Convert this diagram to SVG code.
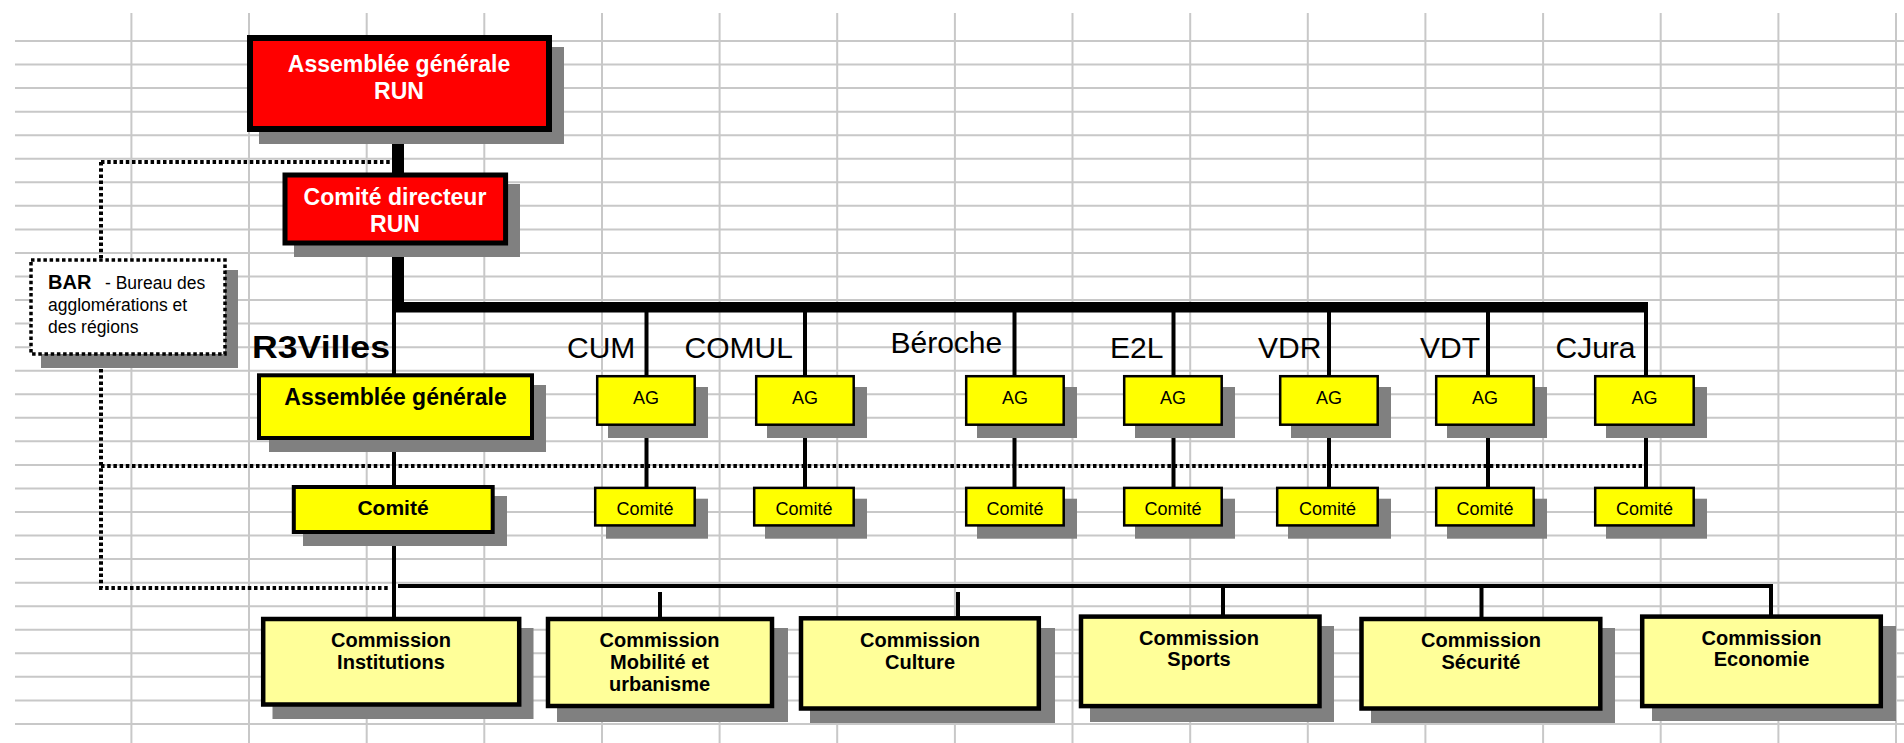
<svg xmlns="http://www.w3.org/2000/svg" width="1904" height="743" viewBox="0 0 1904 743">
<style>
.grid{stroke:#c8c8c8;stroke-width:2;fill:none}
.sh{fill:#808080}
.red{fill:#ff0000;stroke:#000}
.yel{fill:#ffff00;stroke:#000}
.lyel{fill:#ffff99;stroke:#000;stroke-width:4.5}
.sm{fill:#ffff00;stroke:#000;stroke-width:2.5}
.thick{stroke:#000;stroke-width:12;fill:none}
.thin{stroke:#000;stroke-width:4;fill:none}
.dot{stroke:#000;stroke-width:4;fill:none;stroke-dasharray:3.5 2.7}
text{font-family:"Liberation Sans",Arial,sans-serif}
.wt{fill:#fff;font-weight:bold;font-size:23px;text-anchor:middle}
.bt{fill:#000;font-weight:bold;text-anchor:middle}
.st{fill:#000;font-size:18px;text-anchor:middle}
.lab{fill:#000;font-size:30px}
.com{fill:#000;font-weight:bold;font-size:20px;text-anchor:middle}
</style>
<rect x="0" y="0" width="1904" height="743" fill="#fff"/>
<g id="grid">
<path class="grid" d="M15 41H1904M15 64.55H1904M15 88.1H1904M15 111.65H1904M15 135.2H1904M15 158.75H1904M15 182.3H1904M15 205.85H1904M15 229.4H1904M15 252.95H1904M15 276.5H1904M15 300.05H1904M15 323.6H1904M15 347.15H1904M15 370.7H1904M15 394.25H1904M15 417.8H1904M15 441.35H1904M15 464.9H1904M15 488.45H1904M15 512H1904M15 535.55H1904M15 559.1H1904M15 582.65H1904M15 606.2H1904M15 629.75H1904M15 653.3H1904M15 676.85H1904M15 700.4H1904M15 723.95H1904"/>
<path class="grid" d="M131.4 13V743M249 13V743M366.7 13V743M484.3 13V743M602 13V743M719.6 13V743M837.2 13V743M954.9 13V743M1072.5 13V743M1190.2 13V743M1307.8 13V743M1425.4 13V743M1543.1 13V743M1660.7 13V743M1778.4 13V743M1896 13V743"/>
</g>
<g id="connectors">
<path class="thick" d="M398 131V174M398 245V307"/>
<rect x="392" y="302" width="1256" height="10.5" fill="#000"/>
<path class="thin" d="M394 312V374M646.5 312V376M805 312V376M1014.5 312V376M1173.5 312V376M1329 312V376M1488 312V376M1646 312V376"/>
<path class="thin" d="M646.5 426V487M805 426V487M1014.5 426V487M1173.5 426V487M1329 426V487M1488 426V487M1646 426V487"/>
<path class="thin" d="M394 440V486M394 534V617"/>
<path class="thin" d="M398 586H1773M660 592V617M958 592V617M1223 586V615M1481.5 586V617M1771 584V615"/>
<path class="dot" d="M101 162H390M101 162V258M101 369V588H390M101 466H1642"/>
</g>
<g id="ag-run">
<rect class="sh" x="259" y="47" width="305" height="97"/>
<rect class="red" x="250" y="38" width="299" height="91" stroke-width="6"/>
<text class="wt" x="399" y="72">Assemblée générale</text>
<text class="wt" x="399" y="99">RUN</text>
</g>
<g id="cd-run">
<rect class="sh" x="294" y="184" width="226" height="73"/>
<rect class="red" x="285" y="175" width="220.6" height="68" stroke-width="5"/>
<text class="wt" x="395" y="205">Comité directeur</text>
<text class="wt" x="395" y="232">RUN</text>
</g>
<g id="bar">
<rect class="sh" x="41" y="270" width="197" height="98"/>
<rect x="31" y="260" width="194" height="94" fill="#fff" stroke="#000" stroke-width="3.5" stroke-dasharray="3.5 2.7"/>
<text x="48" y="289" font-size="20" font-weight="bold">BAR</text>
<text x="105" y="289" font-size="17.5">- Bureau des</text>
<text x="48" y="311" font-size="17.5">agglomérations et</text>
<text x="48" y="333" font-size="17.5">des régions</text>
</g>
<g id="labels">
<text x="252" y="358" font-size="32" font-weight="bold" textLength="138" lengthAdjust="spacingAndGlyphs">R3Villes</text>
<text class="lab" x="567" y="358">CUM</text>
<text class="lab" x="684.5" y="358">COMUL</text>
<text class="lab" x="890.5" y="353">Béroche</text>
<text class="lab" x="1110" y="358">E2L</text>
<text class="lab" x="1258" y="358">VDR</text>
<text class="lab" x="1420" y="358">VDT</text>
<text class="lab" x="1555.5" y="358">CJura</text>
</g>
<g id="r3-ag">
<rect class="sh" x="269" y="385" width="277" height="67"/>
<rect class="yel" x="259" y="375.3" width="273" height="62.7" stroke-width="4"/>
<text class="bt" x="395.5" y="405" font-size="23">Assemblée générale</text>
</g>
<g id="r3-comite">
<rect class="sh" x="303" y="496" width="204" height="50"/>
<rect class="yel" x="293.8" y="487" width="198.9" height="45" stroke-width="4"/>
<text class="bt" x="393" y="515" font-size="21">Comité</text>
</g>
<g id="cum-ag"><rect class="sh" x="608" y="387" width="100" height="51"/><rect class="sm" x="597.2" y="376.2" width="97.5" height="48.5"/><text class="st" x="646" y="403.5">AG</text></g>
<g id="comul-ag"><rect class="sh" x="767" y="387" width="100" height="51"/><rect class="sm" x="756.2" y="376.2" width="97.5" height="48.5"/><text class="st" x="805" y="403.5">AG</text></g>
<g id="beroche-ag"><rect class="sh" x="977" y="387" width="100" height="51"/><rect class="sm" x="966.2" y="376.2" width="97.5" height="48.5"/><text class="st" x="1015" y="403.5">AG</text></g>
<g id="e2l-ag"><rect class="sh" x="1135" y="387" width="100" height="51"/><rect class="sm" x="1124.2" y="376.2" width="97.5" height="48.5"/><text class="st" x="1173" y="403.5">AG</text></g>
<g id="vdr-ag"><rect class="sh" x="1291" y="387" width="100" height="51"/><rect class="sm" x="1280.2" y="376.2" width="97.5" height="48.5"/><text class="st" x="1329" y="403.5">AG</text></g>
<g id="vdt-ag"><rect class="sh" x="1447" y="387" width="100" height="51"/><rect class="sm" x="1436.2" y="376.2" width="97.5" height="48.5"/><text class="st" x="1485" y="403.5">AG</text></g>
<g id="cjura-ag"><rect class="sh" x="1606" y="387" width="101" height="51"/><rect class="sm" x="1595.2" y="376.2" width="98.5" height="48.5"/><text class="st" x="1644.5" y="403.5">AG</text></g>
<g id="cum-comite"><rect class="sh" x="606" y="498.7" width="102" height="40"/><rect class="sm" x="595.2" y="487.9" width="99.5" height="37.5"/><text class="st" x="645" y="515">Comité</text></g>
<g id="comul-comite"><rect class="sh" x="765" y="498.7" width="102" height="40"/><rect class="sm" x="754.2" y="487.9" width="99.5" height="37.5"/><text class="st" x="804" y="515">Comité</text></g>
<g id="beroche-comite"><rect class="sh" x="977" y="498.7" width="100" height="40"/><rect class="sm" x="966.2" y="487.9" width="97.5" height="37.5"/><text class="st" x="1015" y="515">Comité</text></g>
<g id="e2l-comite"><rect class="sh" x="1135" y="498.7" width="100" height="40"/><rect class="sm" x="1124.2" y="487.9" width="97.5" height="37.5"/><text class="st" x="1173" y="515">Comité</text></g>
<g id="vdr-comite"><rect class="sh" x="1288" y="498.7" width="103" height="40"/><rect class="sm" x="1277.2" y="487.9" width="100.5" height="37.5"/><text class="st" x="1327.5" y="515">Comité</text></g>
<g id="vdt-comite"><rect class="sh" x="1447" y="498.7" width="100" height="40"/><rect class="sm" x="1436.2" y="487.9" width="97.5" height="37.5"/><text class="st" x="1485" y="515">Comité</text></g>
<g id="cjura-comite"><rect class="sh" x="1606" y="498.7" width="101" height="40"/><rect class="sm" x="1595.2" y="487.9" width="98.5" height="37.5"/><text class="st" x="1644.5" y="515">Comité</text></g>
<g id="com-institutions">
<rect class="sh" x="272.5" y="628" width="261" height="91"/>
<rect class="lyel" x="263.2" y="619" width="256" height="85.5"/>
<text class="com" x="391" y="647.3">Commission</text>
<text class="com" x="391" y="668.5">Institutions</text>
</g>
<g id="com-mobilite">
<rect class="sh" x="557" y="628" width="231" height="94"/>
<rect class="lyel" x="548" y="619" width="224" height="87"/>
<text class="com" x="659.5" y="647.3">Commission</text>
<text class="com" x="659.5" y="668.5">Mobilité et</text>
<text class="com" x="659.5" y="690.5">urbanisme</text>
</g>
<g id="com-culture">
<rect class="sh" x="810" y="628" width="245" height="95"/>
<rect class="lyel" x="801" y="618.3" width="237.8" height="90.2"/>
<text class="com" x="920" y="647.3">Commission</text>
<text class="com" x="920" y="668.5">Culture</text>
</g>
<g id="com-sports">
<rect class="sh" x="1090" y="626" width="244" height="96"/>
<rect class="lyel" x="1081" y="616.6" width="238.5" height="89.5"/>
<text class="com" x="1199" y="645">Commission</text>
<text class="com" x="1199" y="666">Sports</text>
</g>
<g id="com-securite">
<rect class="sh" x="1371" y="628" width="244" height="95"/>
<rect class="lyel" x="1361.5" y="619" width="238.8" height="89.5"/>
<text class="com" x="1481" y="647.3">Commission</text>
<text class="com" x="1481" y="668.5">Sécurité</text>
</g>
<g id="com-economie">
<rect class="sh" x="1652" y="626" width="244" height="95"/>
<rect class="lyel" x="1642.2" y="616.6" width="238.6" height="89.5"/>
<text class="com" x="1761.5" y="645">Commission</text>
<text class="com" x="1761.5" y="666">Economie</text>
</g>
</svg>
